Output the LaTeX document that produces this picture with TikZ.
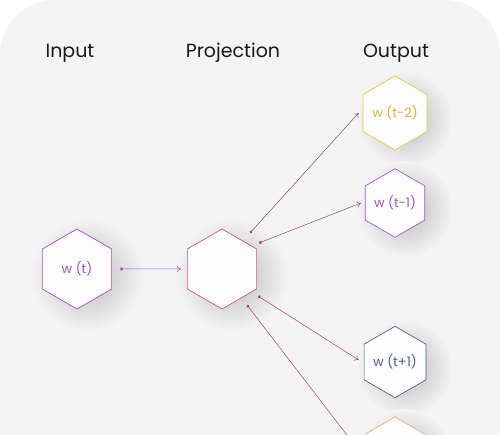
\documentclass[tikz,border=0pt]{standalone}
\usepackage{fontspec}
\setmainfont{Poppins}
\usetikzlibrary{arrows.meta, shapes.geometric, backgrounds}

\definecolor{cardbg}{HTML}{F4F4F4}
\definecolor{inpurple}{HTML}{A54CC0}
\definecolor{projred}{HTML}{C45A78}
\definecolor{linemauve}{HTML}{8B4A6E}
\definecolor{linered}{HTML}{A8455F}
\definecolor{outyellow}{HTML}{E8C94A}
\definecolor{outpurple}{HTML}{A65AC8}
\definecolor{outblue}{HTML}{4A5F92}
\definecolor{outpeach}{HTML}{E2B48C}

\begin{document}
\begin{tikzpicture}[x=1pt, y=-1pt,
    hexa/.style={regular polygon, regular polygon sides=6, shape border rotate=30,
      minimum size=80pt, inner sep=0pt, fill=white!99!black, line width=0.7pt,
      font=\fontsize{13}{15}\selectfont},
    outhexa/.style={hexa, minimum size=68pt},
    title/.style={font=\fontsize{19}{22}\selectfont, text=black!90},
    softshadow/.style={inner color=black!28, outer color=cardbg},
    link/.style={{Circle[length=3pt]}-{To[length=4pt, width=6pt]}, line width=0.5pt}]
        \useasboundingbox (0,0) rectangle (500,435);
        \clip (0,0) rectangle (500,435);

        \node[title] (tin) at (70,53) {Input}; %見出し
        \node[title] (tproj) at (233,53) {Projection};
        \node[title] (tout) at (396,53) {Output};

        \node[hexa, draw=inpurple, text=inpurple] (in) at (77,269) {w (t)}; %入力
        \node[hexa, draw=projred] (proj) at (222,269) {}; %射影
        \node[outhexa, draw=outyellow, text=outyellow!90!black] (om2) at (395,113) {w (t-2)}; %出力
        \node[outhexa, draw=outpurple, text=outpurple] (om1) at (395,203) {w (t-1)};
        \node[outhexa, draw=outblue, text=outblue] (op1) at (395,362) {w (t+1)};
        \node[outhexa, draw=outpeach] (op2) at (395,451) {}; %下は切れている

        \draw[link, inpurple] ([xshift=8pt]in.east) -- ([xshift=-6pt]proj.west);
        \draw[link, linemauve] ([xshift=28pt, yshift=36pt]proj.center) -- ([xshift=-4pt]om2.west);
        \draw[link, linemauve] ([xshift=37pt, yshift=26pt]proj.center) -- ([xshift=-4pt]om1.west);
        \draw[link, linered] ([xshift=36pt, yshift=-27pt]proj.center) -- ([xshift=-5pt, yshift=2pt]op1.west);
        \draw[link, linered] ([xshift=25pt, yshift=-36pt]proj.center) -- ([xshift=-6pt]op2.west);

        \begin{scope}[on background layer]
            \fill[white] (0,0) rectangle (500,435); %外側
            \fill[cardbg, rounded corners=55pt] (0,0) rectangle (500,540); %カード
            \foreach \n/\r in {in/56, proj/56, om2/48, om1/48, op1/48, op2/48}
                \shade[softshadow] ([xshift=10pt, yshift=-6pt]\n.center) circle (\r); %影
        \end{scope}

    \end{tikzpicture}
\end{document}
